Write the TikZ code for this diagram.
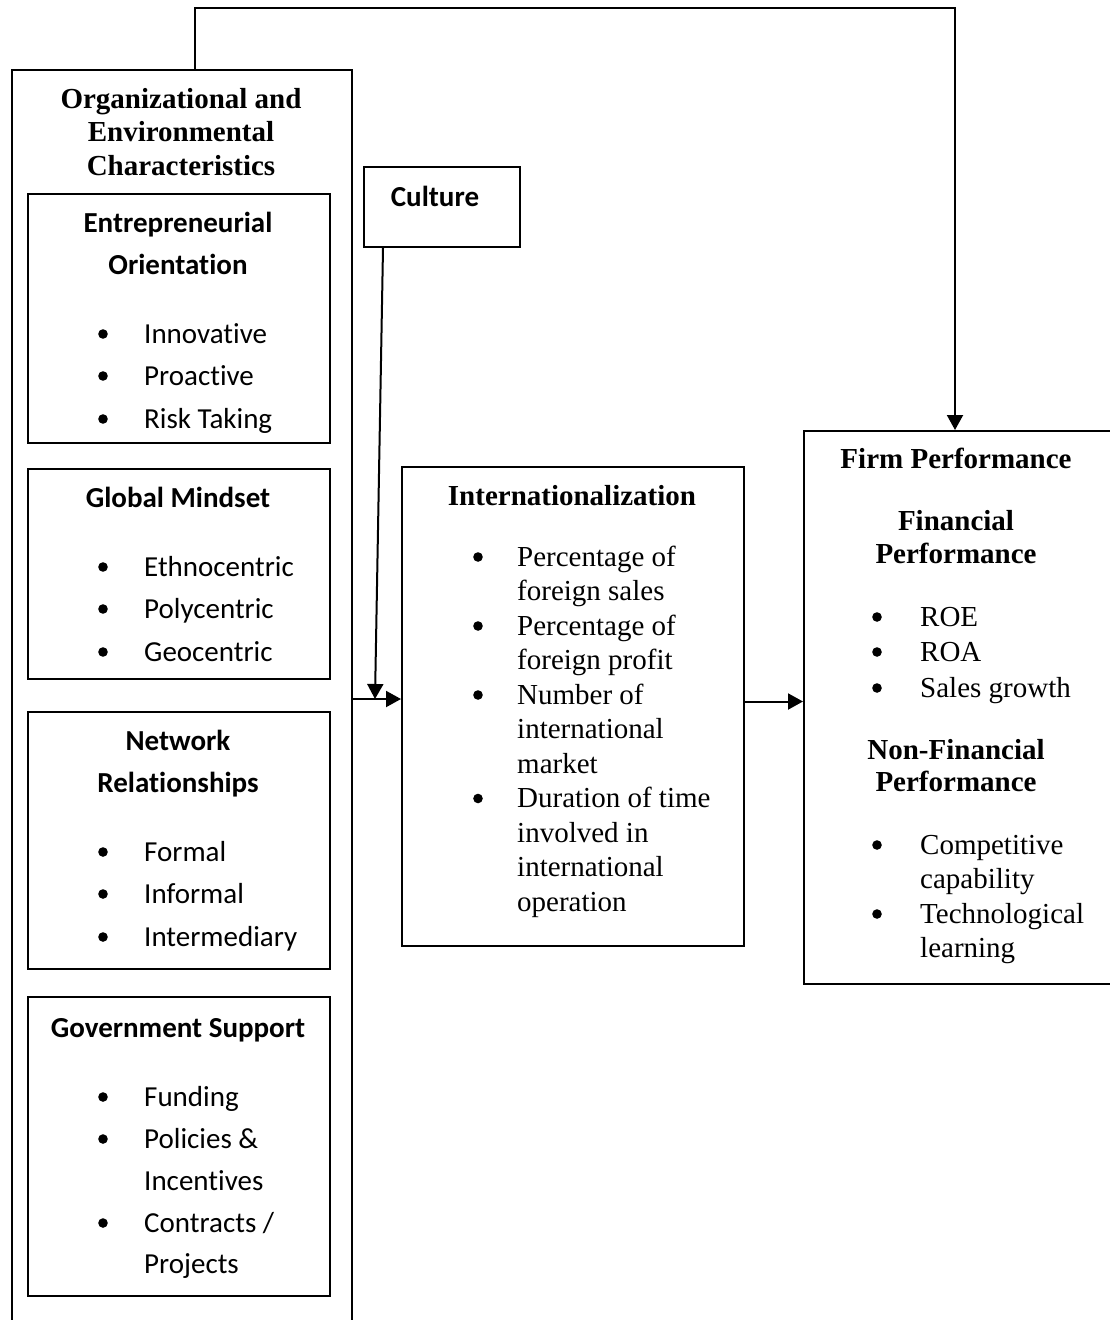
\documentclass[tikz,border=0pt]{standalone}
\usepackage{fontspec}
\setmainfont{Liberation Serif}
\newfontfamily\calfont[Ligatures=NoCommon]{Carlito}
\usetikzlibrary{arrows.meta,calc}
\newcommand\mybul[2]{\fill (#1,#2) circle (4.8pt);}
\begin{document}
\begin{tikzpicture}[x=1pt,y=-1pt,
  frame/.style={draw, line width=2pt, inner sep=0pt, anchor=north west},
  conn/.style={line width=2pt, -{Triangle[length=15pt,width=16pt]}},
  ser/.style={font=\fontsize{29}{34}\selectfont, inner sep=0pt, anchor=base west},
  serb/.style={font=\fontsize{29}{34}\selectfont\bfseries, inner sep=0pt, anchor=base},
  cal/.style={font=\fontsize{29}{34}\selectfont\calfont, inner sep=0pt, anchor=base west},
  calb/.style={font=\fontsize{29}{34}\selectfont\calfont\bfseries, inner sep=0pt, anchor=base}]
\useasboundingbox (0,0) rectangle (1110,1320);
\clip (0,0) rectangle (1110,1320);
\fill[white] (0,0) rectangle (1110,1320);

% boxes
\node[frame, minimum width=340pt, minimum height=1290pt] (oec) at (11,69) {};
\node[frame, minimum width=302pt, minimum height=249pt] (eo) at (27,193) {};
\node[frame, minimum width=302pt, minimum height=210pt] (gm) at (27,468) {};
\node[frame, minimum width=302pt, minimum height=257pt] (nr) at (27,711) {};
\node[frame, minimum width=302pt, minimum height=299pt] (gs) at (27,996) {};
\node[frame, minimum width=156pt, minimum height=80pt] (culture) at (363,166) {};
\node[frame, minimum width=342pt, minimum height=479pt] (intern) at (401,466) {};
\node[frame, minimum width=337pt, minimum height=553pt] (firm) at (803,430) {};

% outer title
\node[serb] (o1) at (181,108) {Organizational and};
\node[serb] (o2) at (181,141) {Environmental};
\node[serb] (o3) at (181,175) {Characteristics};

% EO
\node[calb] (e1) at (178,232) {Entrepreneurial};
\node[calb] (e2) at (178,274) {Orientation};
\mybul{103}{334}\node[cal] (e3) at (144,343) {Innovative};
\mybul{103}{376}\node[cal] (e4) at (144,385) {Proactive};
\mybul{103}{419}\node[cal] (e5) at (144,428) {Risk Taking};

% GM
\node[calb] (g1) at (178,507) {Global Mindset};
\mybul{103}{567}\node[cal] (g2) at (144,576) {Ethnocentric};
\mybul{103}{609}\node[cal] (g3) at (144,618) {Polycentric};
\mybul{103}{652}\node[cal] (g4) at (144,661) {Geocentric};

% NR
\node[calb] (n1) at (178,750) {Network};
\node[calb] (n2) at (178,792) {Relationships};
\mybul{103}{852}\node[cal] (n3) at (144,861) {Formal};
\mybul{103}{894}\node[cal] (n4) at (144,903) {Informal};
\mybul{103}{937}\node[cal] (n5) at (144,946) {Intermediary};

% GS
\node[calb] (s1) at (178,1037) {Government Support};
\mybul{103}{1097}\node[cal] (s2) at (144,1106) {Funding};
\mybul{103}{1139}\node[cal] (s3) at (144,1148) {Policies \&};
\node[cal] (s4) at (144,1190) {Incentives};
\mybul{103}{1223}\node[cal] (s5) at (144,1232) {Contracts /};
\node[cal] (s6) at (144,1273) {Projects};

% Culture
\node[calb] (c1) at (435,206) {Culture};

% Internationalization
\node[serb] (i0) at (572,505) {Internationalization};
\mybul{478}{557}\node[ser] (i1) at (517,566) {Percentage of};
\node[ser] (i2) at (517,600.5) {foreign sales};
\mybul{478}{626}\node[ser] (i3) at (517,635) {Percentage of};
\node[ser] (i4) at (517,669.5) {foreign profit};
\mybul{478}{695}\node[ser] (i5) at (517,704) {Number of};
\node[ser] (i6) at (517,738.5) {international};
\node[ser] (i7) at (517,773) {market};
\mybul{478}{798.5}\node[ser] (i8) at (517,807.5) {Duration of time};
\node[ser] (i9) at (517,842) {involved in};
\node[ser] (i10) at (517,876.5) {international};
\node[ser] (i11) at (517,911) {operation};

% Firm performance
\node[serb] (f0) at (956,468) {Firm Performance};
\node[serb] (f1) at (956,530) {Financial};
\node[serb] (f2) at (956,563) {Performance};
\mybul{877}{617}\node[ser] (f3) at (920,626) {ROE};
\mybul{877}{652}\node[ser] (f4) at (920,661) {ROA};
\mybul{877}{688}\node[ser] (f5) at (920,697) {Sales growth};
\node[serb] (f6) at (956,759) {Non-Financial};
\node[serb] (f7) at (956,791) {Performance};
\mybul{877}{845}\node[ser] (f8) at (920,854) {Competitive};
\node[ser] (f9) at (920,888) {capability};
\mybul{877}{914}\node[ser] (f10) at (920,923) {Technological};
\node[ser] (f11) at (920,957) {learning};

% connectors
\coordinate (tl) at (195,8);
\coordinate (tr) at (955,8);
\coordinate (cb) at (375,699);
\draw[conn] (oec.north west -| tl) -- (tl) -- (tr) -- (tr |- firm.north);
\draw[conn] ([xshift=20pt]culture.south west) -- (cb);
\draw[conn] (oec.east |- cb) -- (intern.west |- cb);
\draw[conn] ([yshift=5pt]intern.east) -- ([yshift=5pt]intern.east -| firm.west);
\end{tikzpicture}
\end{document}
